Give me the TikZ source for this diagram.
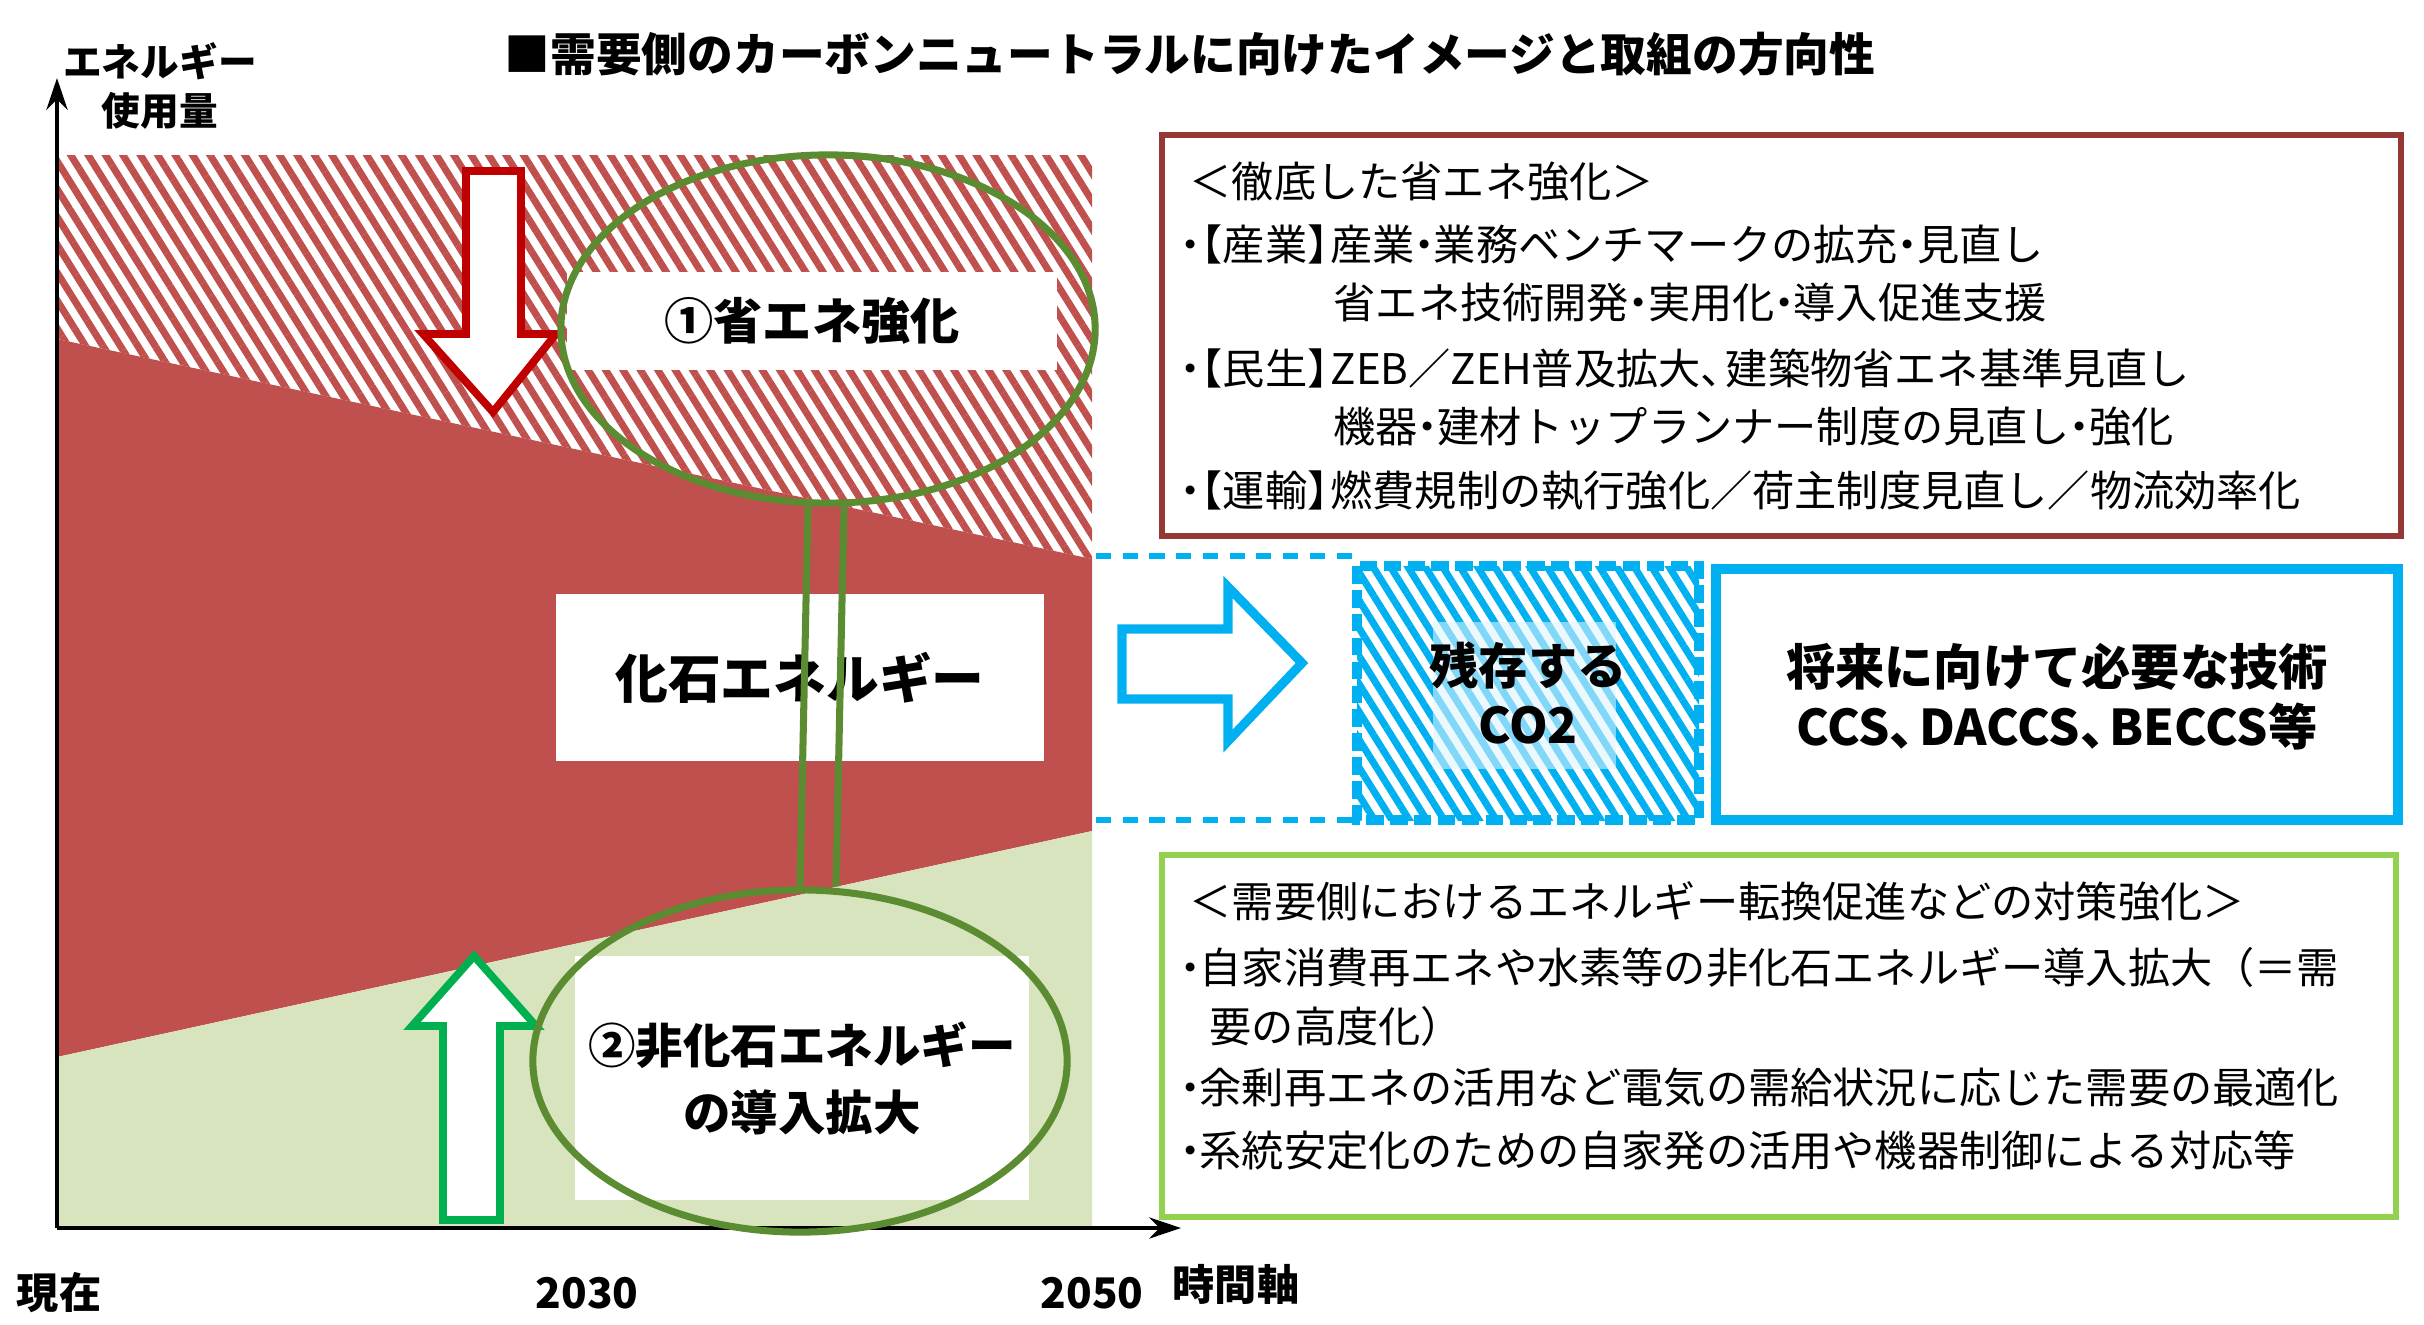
\documentclass[tikz,border=0pt]{standalone}
\usepackage{fontspec}
\setmainfont{Noto Sans CJK JP}
\usetikzlibrary{patterns.meta,shapes.geometric,calc,arrows.meta}
\definecolor{cred}{HTML}{C0504D}
\definecolor{dred}{HTML}{953735}
\definecolor{lgreen}{HTML}{D7E4BD}
\definecolor{egreen}{HTML}{5B8C32}
\definecolor{cblue}{HTML}{00B0F0}
\definecolor{bgreen}{HTML}{92D050}
\definecolor{arred}{HTML}{C00000}
\definecolor{argreen}{HTML}{00B050}
\newcommand{\dt}{\makebox[0.45em][c]{・}}
\newcommand{\lb}{\makebox[0.55em][r]{【}}
\newcommand{\rb}{\makebox[0.55em][l]{】}}
\newcommand{\cm}{\makebox[0.6em][l]{、}}
\tikzset{
 txt/.style={anchor=west,inner sep=0pt,font=\fontsize{12}{14}\selectfont},
 lbl/.style={inner sep=0pt,font=\bfseries\fontsize{14}{17}\selectfont,align=center},
 whitebox/.style={fill=white,draw=none},
 ell/.style={draw=egreen,line width=2pt,ellipse,inner sep=0pt},
}
\begin{document}
\begin{tikzpicture}[x=0.01cm,y=-0.01cm]
\useasboundingbox (0,0) rectangle (2424,1324);
\fill[white] (0,0) rectangle (2424,1324);
% chart regions
\fill[pattern={Lines[angle=-58,distance=4.2pt,line width=2pt]},pattern color=cred] (57,155) -- (1092,155) -- (1092,559) -- (57,339) -- cycle;
\fill[cred] (57,339) -- (1092,559) -- (1092,831) -- (57,1057) -- cycle;
\fill[lgreen] (57,1057) -- (1092,831) -- (1092,1228) -- (57,1228) -- cycle;
% axes
\coordinate (o) at (57,1228);
\coordinate (ytop) at (57,78);
\coordinate (xend) at (1181,1228);
\draw[line width=1.2pt,-{Stealth[length=9pt,width=6pt]}] (o) -- (ytop);
\draw[line width=1.2pt,-{Stealth[length=9pt,width=6pt]}] (o) -- (xend);
% red arrow
\draw[arred,line width=2.2pt,fill=white] (466,171) -- (521,171) -- (521,334) -- (556,334) -- (493,412) -- (423,334) -- (466,334) -- cycle;
% green arrow
\draw[argreen,line width=2.2pt,fill=white] (443,1220) -- (500,1220) -- (500,1026) -- (536,1026) -- (474,956) -- (412,1026) -- (443,1026) -- cycle;
% white boxes
\fill[whitebox] (567,272) rectangle (1057,370);
\node[lbl] (l1) at (812,321) {①省エネ強化};
\fill[whitebox] (556,594) rectangle (1044,761);
\node[lbl,font=\bfseries\fontsize{15}{18}\selectfont] (l2) at (800,678) {化石エネルギー};
\fill[whitebox] (575,956) rectangle (1029,1200);
\node[lbl,font=\bfseries\fontsize{13.5}{19}\selectfont] (l3) at (802,1078) {②非化石エネルギー\\の導入拡大};
% ellipses
\node[ell,minimum width=5.34cm,minimum height=3.48cm] (e1) at (828,329) {};
\node[ell,minimum width=5.34cm,minimum height=3.42cm] (e2) at (800,1061) {};
\draw[egreen,line width=2pt] ($(e1.south)+(-20,0)$) -- ($(e2.north)+(0,0)$);
\draw[egreen,line width=2pt] ($(e1.south)+(16,0)$) -- ($(e2.north)+(36,0)$);
% axis labels
\node[inner sep=0pt,font=\bfseries\fontsize{11}{14}\selectfont,align=center] (ylab) at (160,86) {エネルギー\\使用量};
\node[inner sep=0pt,font=\bfseries\fontsize{12}{14}\selectfont] (t0) at (59,1293) {現在};
\node[inner sep=0pt,font=\bfseries\fontsize{12}{14}\selectfont] (t1) at (587,1293) {2030};
\node[inner sep=0pt,font=\bfseries\fontsize{12}{14}\selectfont] (t2) at (1092,1293) {2050};
\node[inner sep=0pt,font=\bfseries\fontsize{12}{14}\selectfont] (t3) at (1236,1284) {時間軸};
% title
\node[inner sep=0pt,font=\bfseries\fontsize{13}{16}\selectfont] (title) at (1190,54) {■需要側のカーボンニュートラルに向けたイメージと取組の方向性};
% top box
\draw[dred,line width=1.8pt] (1162,135) rectangle (2401,536);
\node[txt] (a0) at (1189,182) {＜徹底した省エネ強化＞};
\node[txt] (a1) at (1180,244) {\dt\lb 産業\rb 産業\dt 業務ベンチマークの拡充\dt 見直し};
\node[txt] (a2) at (1333,303) {省エネ技術開発\dt 実用化\dt 導入促進支援};
\node[txt] (a3) at (1180,368) {\dt\lb 民生\rb ZEB／ZEH普及拡大\cm 建築物省エネ基準見直し};
\node[txt] (a4) at (1333,427) {機器\dt 建材トップランナー制度の見直し\dt 強化};
\node[txt] (a5) at (1180,491) {\dt\lb 運輸\rb 燃費規制の執行強化／荷主制度見直し／物流効率化};
% dashed lines
\draw[cblue,line width=1.7pt,dash pattern=on 4.3pt off 3.3pt] (1096,556) -- (1355,556);
\draw[cblue,line width=1.7pt,dash pattern=on 4.3pt off 3.3pt] (1096,820) -- (1355,820);
% blue arrow
\draw[cblue,line width=2.6pt,fill=white] (1122,629) -- (1228,629) -- (1228,587) -- (1302,663) -- (1228,741) -- (1228,699) -- (1122,699) -- cycle;
% CO2 box
\fill[pattern={Lines[angle=-58,distance=4.2pt,line width=2pt]},pattern color=cblue] (1357,566) rectangle (1699,820);
\fill[white,opacity=0.55] (1433,622) rectangle (1616,769);
\fill[cblue,opacity=0.08] (1433,622) rectangle (1616,769);
\draw[cblue,line width=2.8pt,dash pattern=on 5pt off 1.8pt] (1357,566) rectangle (1699,820);
\node[lbl] (co2) at (1528,693) {残存する\\CO2};
% tech box
\draw[cblue,line width=2.6pt] (1716,569) rectangle (2398,820);
\node[lbl] (tech) at (2057,697) {将来に向けて必要な技術\\CCS\cm DACCS\cm BECCS等};
% bottom box
\draw[bgreen,line width=1.8pt] (1162,855) rectangle (2396,1217);
\node[txt] (b0) at (1189,901) {＜需要側におけるエネルギー転換促進などの対策強化＞};
\node[txt] (b1) at (1180,967) {\dt 自家消費再エネや水素等の非化石エネルギー導入拡大（＝需};
\node[txt] (b2) at (1209,1026) {要の高度化）};
\node[txt] (b3) at (1180,1088) {\dt 余剰再エネの活用など電気の需給状況に応じた需要の最適化};
\node[txt] (b4) at (1180,1150) {\dt 系統安定化のための自家発の活用や機器制御による対応等};
\end{tikzpicture}
\end{document}
